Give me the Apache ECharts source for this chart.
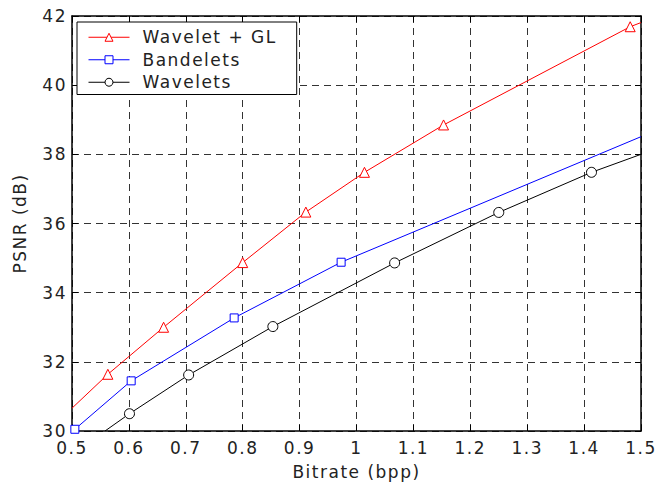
<!DOCTYPE html>
<html>
<head>
<meta charset="utf-8">
<script src="https://cdn.jsdelivr.net/npm/echarts@6/dist/echarts.min.js"></script>
<style>
  html, body { margin: 0; padding: 0; background: #fff; }
  #chart { width: 657px; height: 483px; }
  #chart text { letter-spacing: 1.5px; }
</style>
</head>
<body>
<div id="chart"></div>
<script>
// values; third field = draw a marker at this point
const waveletGL = [
  [0.5, 30.66, false], [0.563, 31.64, true], [0.661, 33.0, true], [0.8, 34.87, true],
  [0.911, 36.33, true], [1.014, 37.48, true], [1.153, 38.85, true], [1.481, 41.69, true],
  [1.5, 41.81, false]
]
const bandelets = [
  [0.505, 30.05, true], [0.604, 31.45, true], [0.785, 33.27, true], [0.973, 34.88, true],
  [1.5, 38.51, false]
]
const wavelets = [
  [0.558, 30.0, false], [0.601, 30.5, true], [0.705, 31.62, true], [0.853, 33.02, true],
  [1.067, 34.86, true], [1.25, 36.32, true], [1.413, 37.48, true], [1.5, 38.0, false]
]

const font = 'DejaVu Sans'

// the reference text is spaced out a bit, so measure with the same spacing
const mctx = document.createElement('canvas').getContext('2d')
mctx.letterSpacing = '1.5px'
echarts.setPlatformAPI({
  measureText (text, f) {
    mctx.font = f || '12px sans-serif'
    return mctx.measureText(text)
  }
})

const toData = arr => arr.map(([x, y, mark]) => mark ? [x, y] : { value: [x, y], symbol: 'none' })

const mkSeries = (name, arr, color, symbol, size) => ({
  name,
  type: 'line',
  data: toData(arr),
  symbol,
  symbolSize: size,
  showAllSymbol: true,
  color,
  lineStyle: { color, width: 1 },
  itemStyle: { color: '#fff', borderColor: color, borderWidth: 1 },
  emphasis: { disabled: true },
  z: 5
})

const dashed = { show: true, lineStyle: { color: '#333', type: [7, 5], width: 1 } }
const txt = { fontFamily: font, fontSize: 17, color: '#222' }

const chart = echarts.init(document.getElementById('chart'), null, { renderer: 'svg' })
chart.setOption({
  animation: false,
  grid: { left: 72, right: 16, top: 16, bottom: 52, outerBoundsMode: 'none', containLabel: false },
  legend: {
    left: 77, top: 22,
    orient: 'vertical',
    itemWidth: 41, itemHeight: 10, itemGap: 4,
    padding: [6, 20, 3, 11],
    backgroundColor: '#fff',
    borderColor: '#000', borderWidth: 1,
    lineStyle: { width: 1 },
    itemStyle: { color: '#fff', borderColor: 'inherit', borderWidth: 1 },
    textStyle: Object.assign({}, txt, { lineHeight: 18, padding: [0, 0, 0, 8] }),
    selectedMode: false
  },
  xAxis: [{
    type: 'value', min: 0.5, max: 1.5, interval: 0.1,
    name: 'Bitrate (bpp)', nameLocation: 'middle', nameGap: 27,
    nameTextStyle: txt,
    axisLine: { lineStyle: { color: '#000', width: 1.5 } },
    axisTick: { inside: true, length: 6, lineStyle: { color: '#000' } },
    axisLabel: Object.assign({}, txt, { margin: 8, formatter: v => String(+v.toFixed(1)) }),
    splitLine: dashed
  }, {
    type: 'value', position: 'top', min: 0.5, max: 1.5, interval: 0.1,
    axisLine: { lineStyle: { color: '#000', width: 1.5 } },
    axisTick: { inside: true, length: 6, lineStyle: { color: '#000' } },
    axisLabel: { show: false }, splitLine: { show: false }
  }],
  yAxis: [{
    type: 'value', min: 30, max: 42, interval: 2,
    name: 'PSNR (dB)', nameLocation: 'middle', nameGap: 43,
    nameTextStyle: txt,
    axisLine: { show: true, lineStyle: { color: '#000', width: 1.5 } },
    axisTick: { show: true, inside: true, length: 6, lineStyle: { color: '#000' } },
    axisLabel: Object.assign({}, txt, { margin: 5 }),
    splitLine: dashed
  }, {
    type: 'value', position: 'right', min: 30, max: 42, interval: 2,
    axisLine: { show: true, lineStyle: { color: '#000', width: 1.5 } },
    axisTick: { show: true, inside: true, length: 6, lineStyle: { color: '#000' } },
    axisLabel: { show: false }, splitLine: { show: false }
  }],
  series: [
    mkSeries('Wavelet + GL', waveletGL, '#ff0000', 'triangle', 10),
    mkSeries('Bandelets', bandelets, '#0000ff', 'rect', 8),
    mkSeries('Wavelets', wavelets, '#000000', 'circle', 10)
  ]
})
</script>
</body>
</html>
